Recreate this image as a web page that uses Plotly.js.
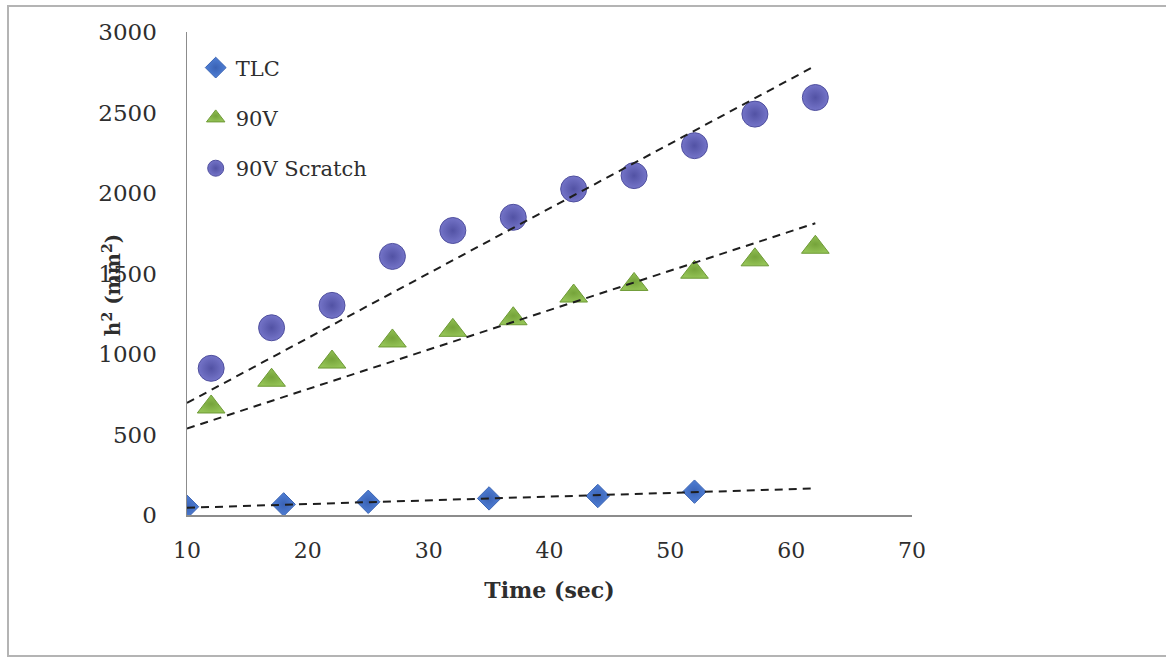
<!DOCTYPE html>
<html>
<head>
<meta charset="utf-8">
<script src="https://cdn.plot.ly/plotly-3.0.1.min.js"></script>
<style>
html,body{margin:0;padding:0;background:#fff;overflow:hidden;width:1166px;height:657px;}
#frame{position:absolute;left:7px;top:5px;width:1200px;height:648px;border:2px solid #b4b4b4;border-right:none;pointer-events:none;z-index:5;}
#chart{position:absolute;left:0;top:0;width:1166px;height:657px;}
</style>
</head>
<body>
<div id="chart"></div>
<div id="frame"></div>
<script>
// Data
const tlcTime = [10, 18, 25, 35, 44, 52];
const tlcH2 = [51, 66, 82, 103, 118, 145];

const v90Time = [12, 17, 22, 27, 32, 37, 42, 47, 52, 57, 62];
const v90H2 = [671, 837, 950, 1081, 1147, 1219, 1360, 1432, 1508, 1585, 1663];

const scratchTime = [12, 17, 22, 27, 32, 37, 42, 47, 52, 57, 62];
const scratchH2 = [911, 1163, 1302, 1606, 1767, 1849, 2025, 2108, 2294, 2490, 2593];

// Trendline end points (as drawn in the reference)
const trendTime = [10, 62];
const tlcTrend = [45, 165];
const v90Trend = [537, 1812];
const scratchTrend = [696, 2790];

const seriesNames = ['TLC', '90V', '90V Scratch'];
const xTickVals = [10, 20, 30, 40, 50, 60, 70];
const yTickVals = [0, 500, 1000, 1500, 2000, 2500, 3000];

const font = 'DejaVu Serif, Liberation Serif, serif';

const traces = [
  {x: tlcTime, y: tlcH2, name: seriesNames[0], mode: 'markers', type: 'scatter', legendgroup: 'a',
   marker: {symbol: 'diamond', size: 18, color: '#4f7fd6', gradient: {type: 'radial', color: '#3a62b4'},
            line: {color: '#3b64b3', width: 1}}},
  {x: v90Time, y: v90H2, name: seriesNames[1], mode: 'markers', type: 'scatter', legendgroup: 'b',
   marker: {symbol: 'triangle-up', size: 24, color: '#93c255', gradient: {type: 'radial', color: '#75a33a'},
            line: {color: '#6e9a36', width: 1}}},
  {x: scratchTime, y: scratchH2, name: seriesNames[2], mode: 'markers', type: 'scatter', legendgroup: 'c',
   marker: {symbol: 'circle', size: 26, color: '#7474c8', gradient: {type: 'radial', color: '#5252a4'},
            line: {color: '#4f4f9e', width: 1}}},
  {x: trendTime, y: tlcTrend, mode: 'lines', type: 'scatter', showlegend: false, hoverinfo: 'skip',
   line: {color: '#1e1e1e', width: 2, dash: '8px,6px'}},
  {x: trendTime, y: v90Trend, mode: 'lines', type: 'scatter', showlegend: false, hoverinfo: 'skip',
   line: {color: '#1e1e1e', width: 2, dash: '8px,6px'}},
  {x: trendTime, y: scratchTrend, mode: 'lines', type: 'scatter', showlegend: false, hoverinfo: 'skip',
   line: {color: '#1e1e1e', width: 2, dash: '8px,6px'}}
];

const layout = {
  width: 1166, height: 657,
  paper_bgcolor: '#ffffff', plot_bgcolor: '#ffffff',
  margin: {l: 187, r: 254, t: 32, b: 142},
  font: {family: font, color: '#2e2e2e', size: 22},
  showlegend: true,
  legend: {x: 0.012, y: 0.968, xanchor: 'left', yanchor: 'top', traceorder: 'grouped',
           tracegroupgap: 20, font: {family: font, size: 21, color: '#2e2e2e'},
           bgcolor: 'rgba(0,0,0,0)'},
  xaxis: {
    range: [10, 70], tickvals: xTickVals, ticktext: xTickVals.map(String),
    showgrid: false, zeroline: false, showline: true, linecolor: '#8c8c8c', linewidth: 1.5,
    ticks: '', ticklabelstandoff: 15,
    tickfont: {family: font, size: 22, color: '#2e2e2e'},
    title: {text: '<b>Time (sec)</b>', font: {family: font, size: 22, color: '#2e2e2e'}, standoff: 20}
  },
  yaxis: {
    range: [0, 3000], tickvals: yTickVals, ticktext: yTickVals.map(String),
    showgrid: false, zeroline: false, showline: true, linecolor: '#8c8c8c', linewidth: 1.5,
    ticks: '', ticklabelstandoff: 24,
    tickfont: {family: font, size: 23, color: '#2e2e2e'}
  },
  annotations: [{
    text: '<b>h<sup>2</sup> (mm<sup>2</sup>)</b>', textangle: -90,
    xref: 'paper', yref: 'paper', x: -0.1034, y: 0.476, xanchor: 'center', yanchor: 'middle',
    showarrow: false, font: {family: font, size: 20, color: '#2e2e2e'}
  }]
};

Plotly.newPlot('chart', traces, layout, {displayModeBar: false, staticPlot: true});
</script>
</body>
</html>
